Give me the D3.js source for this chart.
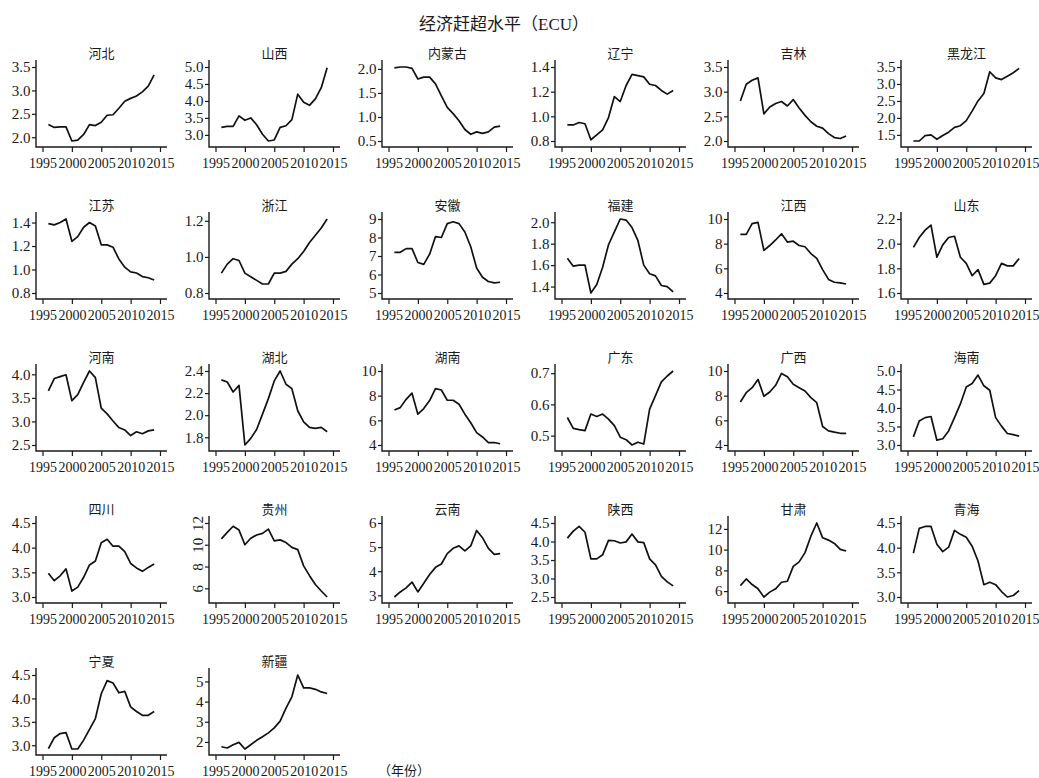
<!DOCTYPE html>
<html>
<head>
<meta charset="utf-8">
<script src="https://cdn.jsdelivr.net/npm/d3@7"></script>
<style>
  body { margin: 0; background: #fff; }
  svg { display: block; }
</style>
</head>
<body>
<script>
// 年份与横轴刻度
const years = [1996, 1997, 1998, 1999, 2000, 2001, 2002, 2003, 2004, 2005, 2006, 2007, 2008, 2009, 2010, 2011, 2012, 2013, 2014];
const xTicks = [1995, 2000, 2005, 2010, 2015];

// 各省 ECU 序列 (1996-2014)
const hebei = [2.27, 2.21, 2.22, 2.22, 1.92, 1.94, 2.06, 2.27, 2.25, 2.32, 2.47, 2.48, 2.62, 2.77, 2.83, 2.88, 2.97, 3.09, 3.33];
const shanxi = [3.22, 3.25, 3.25, 3.56, 3.43, 3.50, 3.30, 3.02, 2.82, 2.85, 3.22, 3.27, 3.45, 4.20, 3.96, 3.87, 4.06, 4.39, 4.98];
const neimenggu = [2.02, 2.04, 2.04, 2.01, 1.79, 1.83, 1.83, 1.69, 1.44, 1.20, 1.07, 0.92, 0.74, 0.64, 0.69, 0.66, 0.69, 0.79, 0.81];
const liaoning = [0.93, 0.93, 0.95, 0.94, 0.81, 0.85, 0.89, 0.99, 1.16, 1.12, 1.25, 1.34, 1.33, 1.32, 1.26, 1.25, 1.21, 1.18, 1.21];
const jilin = [2.81, 3.15, 3.23, 3.28, 2.55, 2.69, 2.76, 2.80, 2.71, 2.84, 2.67, 2.52, 2.39, 2.30, 2.26, 2.15, 2.07, 2.05, 2.10];
const heilongjiang = [1.32, 1.32, 1.48, 1.50, 1.37, 1.48, 1.58, 1.72, 1.77, 1.92, 2.20, 2.50, 2.72, 3.36, 3.18, 3.13, 3.23, 3.33, 3.46];
const jiangsu = [1.39, 1.38, 1.40, 1.43, 1.24, 1.28, 1.36, 1.40, 1.37, 1.21, 1.21, 1.19, 1.09, 1.02, 0.98, 0.97, 0.94, 0.93, 0.91];
const zhejiang = [0.91, 0.96, 0.99, 0.98, 0.91, 0.89, 0.87, 0.85, 0.85, 0.91, 0.91, 0.92, 0.96, 0.99, 1.03, 1.08, 1.12, 1.16, 1.21];
const anhui = [7.2, 7.2, 7.4, 7.4, 6.65, 6.55, 7.1, 8.05, 8.0, 8.75, 8.85, 8.75, 8.3, 7.5, 6.35, 5.85, 5.62, 5.55, 5.58];
const fujian = [1.665, 1.59, 1.60, 1.60, 1.34, 1.42, 1.58, 1.79, 1.91, 2.03, 2.02, 1.95, 1.83, 1.60, 1.52, 1.50, 1.41, 1.40, 1.35];
const jiangxi = [8.76, 8.76, 9.62, 9.73, 7.45, 7.85, 8.3, 8.8, 8.13, 8.2, 7.85, 7.75, 7.2, 6.8, 5.9, 5.1, 4.87, 4.82, 4.73];
const shandong = [1.97, 2.05, 2.11, 2.15, 1.89, 1.99, 2.05, 2.06, 1.89, 1.84, 1.74, 1.79, 1.67, 1.68, 1.74, 1.84, 1.82, 1.82, 1.88];
const henan = [3.65, 3.91, 3.95, 3.99, 3.44, 3.57, 3.83, 4.07, 3.93, 3.28, 3.16, 3.01, 2.87, 2.82, 2.70, 2.78, 2.74, 2.80, 2.82];
const hubei = [2.32, 2.30, 2.21, 2.27, 1.73, 1.79, 1.87, 2.01, 2.15, 2.31, 2.40, 2.28, 2.24, 2.04, 1.94, 1.89, 1.88, 1.89, 1.85];
const hunan = [6.84, 7.03, 7.7, 8.2, 6.5, 6.95, 7.6, 8.57, 8.46, 7.63, 7.63, 7.3, 6.5, 5.8, 5.0, 4.65, 4.2, 4.2, 4.1];
const guangdong = [0.558, 0.523, 0.519, 0.516, 0.569, 0.561, 0.569, 0.553, 0.532, 0.495, 0.487, 0.470, 0.479, 0.473, 0.585, 0.628, 0.672, 0.691, 0.707];
const guangxi = [7.49, 8.24, 8.65, 9.32, 7.95, 8.3, 8.84, 9.8, 9.53, 8.92, 8.65, 8.38, 7.84, 7.43, 5.5, 5.15, 5.05, 4.95, 4.95];
const hainan = [3.22, 3.65, 3.74, 3.77, 3.13, 3.17, 3.38, 3.74, 4.11, 4.57, 4.66, 4.89, 4.6, 4.48, 3.74, 3.51, 3.31, 3.28, 3.24];
const sichuan = [3.48, 3.33, 3.43, 3.57, 3.12, 3.2, 3.4, 3.65, 3.73, 4.1, 4.17, 4.03, 4.03, 3.92, 3.68, 3.59, 3.52, 3.6, 3.67];
const guizhou = [10.54, 11.14, 11.7, 11.35, 10.0, 10.6, 10.9, 11.05, 11.44, 10.36, 10.45, 10.2, 9.76, 9.55, 8.06, 7.16, 6.35, 5.75, 5.2];
const yunnan = [2.93, 3.14, 3.31, 3.55, 3.14, 3.5, 3.86, 4.16, 4.3, 4.73, 4.95, 5.05, 4.84, 5.05, 5.69, 5.39, 4.95, 4.7, 4.73];
const shaanxi = [4.09, 4.28, 4.41, 4.25, 3.53, 3.53, 3.64, 4.03, 4.02, 3.96, 3.99, 4.2, 3.99, 3.97, 3.53, 3.37, 3.06, 2.91, 2.8];
const gansu = [6.53, 7.17, 6.63, 6.22, 5.43, 5.9, 6.22, 6.85, 6.95, 8.38, 8.82, 9.71, 11.3, 12.57, 11.14, 10.92, 10.6, 10.03, 9.87];
const qinghai = [3.89, 4.39, 4.43, 4.43, 4.07, 3.92, 4.01, 4.35, 4.27, 4.21, 4.03, 3.73, 3.25, 3.3, 3.25, 3.11, 3.0, 3.03, 3.13];
const ningxia = [2.93, 3.16, 3.25, 3.27, 2.92, 2.92, 3.11, 3.34, 3.57, 4.1, 4.38, 4.33, 4.12, 4.15, 3.82, 3.72, 3.64, 3.64, 3.72];
const xinjiang = [1.76, 1.7, 1.86, 1.98, 1.65, 1.86, 2.08, 2.26, 2.45, 2.7, 3.03, 3.68, 4.24, 5.32, 4.68, 4.68, 4.61, 4.48, 4.4];

// 纵轴刻度标签
const t2035 = ["2.0", "2.5", "3.0", "3.5"];
const t3050 = ["3.0", "3.5", "4.0", "4.5", "5.0"];
const t0520 = ["0.5", "1.0", "1.5", "2.0"];
const t0814 = ["0.8", "1.0", "1.2", "1.4"];
const t1535 = ["1.5", "2.0", "2.5", "3.0", "3.5"];
const t0812 = ["0.8", "1.0", "1.2"];
const t59 = ["5", "6", "7", "8", "9"];
const t1420 = ["1.4", "1.6", "1.8", "2.0"];
const t410 = ["4", "6", "8", "10"];
const t1622 = ["1.6", "1.8", "2.0", "2.2"];
const t2540 = ["2.5", "3.0", "3.5", "4.0"];
const t1824 = ["1.8", "2.0", "2.2", "2.4"];
const t0507 = ["0.5", "0.6", "0.7"];
const t3045 = ["3.0", "3.5", "4.0", "4.5"];
const t612 = ["6", "8", "10", "12"];
const t36 = ["3", "4", "5", "6"];
const t2545 = ["2.5", "3.0", "3.5", "4.0", "4.5"];
const t25 = ["2", "3", "4", "5"];

const panels = [
  ["河北", hebei, t2035], ["山西", shanxi, t3050], ["内蒙古", neimenggu, t0520],
  ["辽宁", liaoning, t0814], ["吉林", jilin, t2035], ["黑龙江", heilongjiang, t1535],
  ["江苏", jiangsu, t0814], ["浙江", zhejiang, t0812], ["安徽", anhui, t59],
  ["福建", fujian, t1420], ["江西", jiangxi, t410], ["山东", shandong, t1622],
  ["河南", henan, t2540], ["湖北", hubei, t1824], ["湖南", hunan, t410],
  ["广东", guangdong, t0507], ["广西", guangxi, t410], ["海南", hainan, t3050],
  ["四川", sichuan, t3045], ["贵州", guizhou, t612], ["云南", yunnan, t36],
  ["陕西", shaanxi, t2545], ["甘肃", gansu, t612], ["青海", qinghai, t3045],
  ["宁夏", ningxia, t3045], ["新疆", xinjiang, t25]
];
const rotatedLabels = ["贵州"];

const width = 1039, height = 778;
const axisW = 131, axisH = 87;
const colX0 = 36, colStep = 173.0;
const rowB0 = 147, rowStep = 152;
const ink = "#1a1a1a";
const serif = "'Liberation Serif', 'DejaVu Serif', 'Times New Roman', serif";
const cjk = "'Liberation Serif', 'Noto Sans CJK SC', serif";

const svg = d3.select("body").append("svg")
  .attr("width", width)
  .attr("height", height);

svg.append("text")
  .attr("x", 504)
  .attr("y", 30)
  .attr("text-anchor", "middle")
  .style("font-family", cjk)
  .style("font-size", "17px")
  .attr("fill", ink)
  .text("经济赶超水平（ECU）");

panels.forEach(([name, values, ticks], i) => {
  const col = i % 6;
  const row = Math.floor(i / 6);
  const left = colX0 + col * colStep;
  const top = rowB0 + row * rowStep - axisH;

  const g = svg.append("g").attr("transform", `translate(${left},${top})`);

  const tickVals = ticks.map(Number);
  const lo = Math.min(d3.min(values), d3.min(tickVals));
  const hi = Math.max(d3.max(values), d3.max(tickVals));

  const x = d3.scaleLinear().domain([1995, 2015]).range([6.5, 124]);
  const y = d3.scaleLinear().domain([lo, hi]).range([axisH - 6, 7]);

  // x axis
  const gx = g.append("g")
    .attr("transform", `translate(0,${axisH})`)
    .call(d3.axisBottom(x).tickValues(xTicks).tickFormat(d3.format("d")).tickSize(5).tickSizeOuter(0));
  gx.attr("font-family", null);
  gx.select(".domain").remove();
  gx.selectAll("line").attr("stroke", ink).attr("stroke-width", 1.2);
  gx.selectAll("text")
    .attr("y", 20.5)
    .attr("dy", null)
    .style("font-family", serif)
    .style("font-size", "14px")
    .attr("fill", ink);

  // y axis
  const gy = g.append("g")
    .call(d3.axisLeft(y).tickValues(tickVals).tickFormat((d, k) => ticks[k]).tickSize(4).tickPadding(1.5));
  gy.attr("font-family", null);
  gy.select(".domain").remove();
  gy.selectAll("line").attr("stroke", ink).attr("stroke-width", 1.2);
  gy.selectAll("text")
    .style("font-family", serif)
    .style("font-size", "15px")
    .attr("fill", ink);

  if (rotatedLabels.includes(name)) {
    gy.selectAll("text")
      .attr("text-anchor", "middle")
      .attr("x", 0)
      .attr("y", 0)
      .attr("dy", "0.35em")
      .attr("transform", "translate(-11,0) rotate(-90)");
  }

  // axis lines
  g.append("path")
    .attr("d", `M0,0V${axisH}H${axisW}`)
    .attr("fill", "none")
    .attr("stroke", ink)
    .attr("stroke-width", 1.4);

  // series line
  const line = d3.line()
    .x((d, k) => x(years[k]))
    .y((d) => y(d));

  g.append("path")
    .datum(values)
    .attr("d", line)
    .attr("fill", "none")
    .attr("stroke", "#111")
    .attr("stroke-width", 1.7)
    .attr("stroke-linejoin", "round");

  // panel title
  g.append("text")
    .attr("x", axisW / 2)
    .attr("y", -2)
    .attr("text-anchor", "middle")
    .style("font-family", cjk)
    .style("font-size", "13px")
    .attr("fill", ink)
    .text(name);
});

svg.append("text")
  .attr("x", 378)
  .attr("y", 775)
  .style("font-family", cjk)
  .style("font-size", "13px")
  .attr("fill", ink)
  .text("（年份）");
</script>
</body>
</html>
